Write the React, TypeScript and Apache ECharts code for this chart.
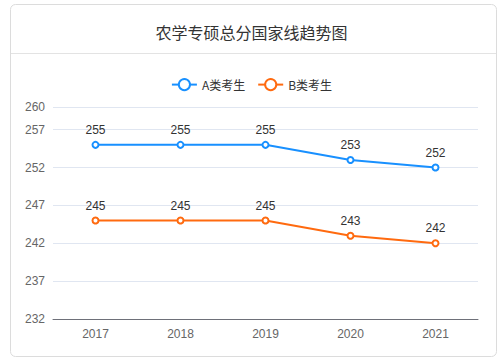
import React, { useEffect, useRef } from "react";
import * as echarts from "echarts";

const title = "农学专硕总分国家线趋势图";
const years = ["2017", "2018", "2019", "2020", "2021"];
const seriesAName = "A类考生";
const seriesBName = "B类考生";
const seriesA = [255, 255, 255, 253, 252];
const seriesB = [245, 245, 245, 243, 242];
const yMin = 232;
const yMax = 260;
const yInterval = 5;

export default function App() {
  const ref = useRef<HTMLDivElement>(null);
  useEffect(() => {
    document.body.style.margin = "0";
    const chart = echarts.init(ref.current!, null, { renderer: "svg" });
    chart.setOption({
      animation: false,
      backgroundColor: "#fff",
      title: {
        text: title,
        left: "center",
        top: 19,
        textStyle: { fontSize: 16, fontWeight: "normal", color: "#333", fontFamily: "Noto Sans CJK SC" },
      },
      graphic: [
        {
          type: "rect",
          shape: { x: 10.5, y: 4.5, width: 486, height: 352, r: 5 },
          style: { fill: "none", stroke: "#dcdcdc", lineWidth: 1 },
          silent: true,
        },
        {
          type: "line",
          shape: { x1: 11, y1: 53.5, x2: 496, y2: 53.5 },
          style: { stroke: "#e3e3e3", lineWidth: 1 },
          silent: true,
        },
      ],
      legend: {
        top: 73,
        left: "center",
        itemGap: 12,
        textStyle: { color: "#333", fontSize: 12, fontFamily: "Noto Sans CJK SC" },
        data: [seriesAName, seriesBName],
      },
      grid: { left: 53, right: 25, top: 107, bottom: 43 },
      xAxis: {
        type: "category",
        data: years,
        axisLine: { lineStyle: { color: "#6e7079" } },
        axisTick: { lineStyle: { color: "#6e7079" } },
        axisLabel: { color: "#666", fontSize: 12, margin: 9 },
      },
      yAxis: {
        type: "value",
        min: yMin,
        max: yMax,
        interval: yInterval,
        axisLine: { show: false },
        axisTick: { show: false },
        axisLabel: { color: "#666", fontSize: 12, margin: 8 },
        splitLine: { lineStyle: { color: "#e0e6f1" } },
      },
      series: [
        {
          name: seriesAName,
          type: "line",
          data: seriesA,
          symbol: "emptyCircle",
          symbolSize: 6,
          itemStyle: { color: "#1890ff" },
          lineStyle: { width: 2 },
          label: { show: true, position: "top", color: "#333", fontSize: 12 },
        },
        {
          name: seriesBName,
          type: "line",
          data: seriesB,
          symbol: "emptyCircle",
          symbolSize: 6,
          itemStyle: { color: "#ff6a0f" },
          lineStyle: { width: 2 },
          label: { show: true, position: "top", color: "#333", fontSize: 12 },
        },
      ],
    });
    return () => chart.dispose();
  }, []);
  return <div ref={ref} style={{ width: 503, height: 362 }} />;
}
